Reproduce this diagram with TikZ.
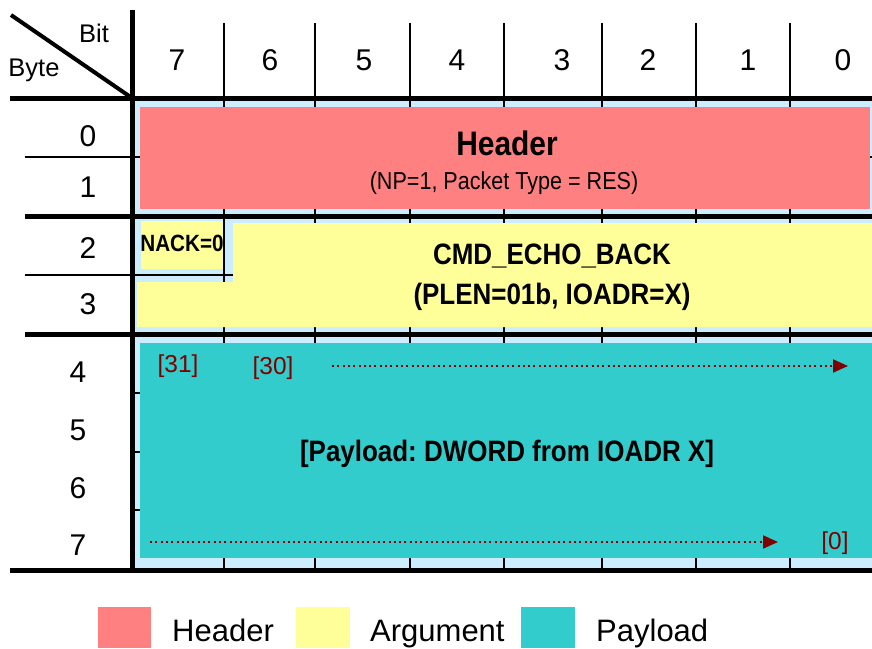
\documentclass[tikz,border=0pt]{standalone}
\usepackage{fontspec}
\setmainfont{Liberation Sans}
\newfontfamily\condf[FakeStretch=0.88]{Liberation Sans}
\usetikzlibrary{arrows.meta}
\definecolor{hdrc}{RGB}{255,128,128}
\definecolor{argc}{RGB}{255,255,153}
\definecolor{payc}{RGB}{51,204,204}
\definecolor{lblue}{RGB}{204,236,255}
\definecolor{idxc}{RGB}{128,0,0}
\begin{document}
\frenchspacing
\begin{tikzpicture}[x=1pt,y=-1pt,
  thinl/.style={line width=1.5pt,black},
  thickl/.style={line width=5pt,black},
  axlab/.style={inner sep=0pt,font=\fontsize{30}{36}\selectfont},
  corner/.style={inner sep=0pt,font=\fontsize{25.5}{30}\selectfont},
  boldlab/.style={inner sep=0pt,font=\condf\fontsize{29.5}{35}\selectfont\bfseries},
  idx/.style={inner sep=0pt,text=idxc,font=\fontsize{24.5}{29}\selectfont},
  legtext/.style={inner sep=0pt,anchor=base west,font=\fontsize{31}{37}\selectfont},
  dotarrow/.style={idxc,line width=2pt,dash pattern=on 2pt off 3.3pt,-{Triangle[length=15pt,width=13pt]}}
]
\useasboundingbox (0,0) rectangle (872,648);
% background of the cell area
\fill[lblue] (131,98) rectangle (872,570);
% thin grid lines
\foreach \x in {224,315,410,504,602,696,790} \draw[thinl] (\x,23) -- (\x,570);
\draw[thinl] (25,157) -- (872,157);
\draw[thinl] (25,275) -- (872,275);
\foreach \y in {393,452,510} \draw[thinl] (131,\y) -- (872,\y);
% field boxes
\fill[hdrc] (140,107) rectangle (870,209);
\fill[argc] (141,221) rectangle (223,269);
\fill[argc] (233,223) -- (872,223) -- (872,327) -- (137,327) -- (137,282) -- (233,282) -- cycle;
\fill[payc] (140,343) rectangle (872,558);
% thick lines
\draw[thickl] (10,98) -- (872,98);
\draw[thickl] (25,216) -- (872,216);
\draw[thickl] (25,334) -- (872,334);
\draw[thickl] (10,570) -- (872,570);
\draw[thickl] (132,10) -- (132,572);
\draw[line width=4pt] (11,15) -- (132,98);
% corner labels
\node[corner] (bit) at (94,33) {Bit};
\node[corner] (byte) at (34,70) {Byte};
% column labels
\node[axlab] (c7) at (177,60) {7};
\node[axlab] (c6) at (270,60) {6};
\node[axlab] (c5) at (364,60) {5};
\node[axlab] (c4) at (457,60) {4};
\node[axlab] (c3) at (562,60) {3};
\node[axlab] (c2) at (648,60) {2};
\node[axlab] (c1) at (748,60) {1};
\node[axlab] (c0) at (843,60) {0};
% row labels
\node[axlab] (r0) at (88,136) {0};
\node[axlab] (r1) at (88,187) {1};
\node[axlab] (r2) at (88,248) {2};
\node[axlab] (r3) at (88,304) {3};
\node[axlab] (r4) at (78,372) {4};
\node[axlab] (r5) at (78,430) {5};
\node[axlab] (r6) at (78,488) {6};
\node[axlab] (r7) at (78,545) {7};
% field texts
\node[inner sep=0pt,font=\condf\fontsize{34}{40}\selectfont\bfseries] (hdr) at (507,143) {Header};
\node[inner sep=0pt,font=\condf\fontsize{24.5}{29}\selectfont] (hdrsub) at (504,183) {(NP=1, Packet Type = RES)};
\node[inner sep=0pt,font=\condf\fontsize{23.5}{28}\selectfont\bfseries] (nack) at (182,243) {NACK=0};
\node[boldlab] (cmd) at (552,256) {CMD\_ECHO\_BACK};
\node[boldlab] (plen) at (552,297) {(PLEN=01b, IOADR=X)};
\node[boldlab] (pay) at (507,454) {[Payload: DWORD from IOADR X]};
% payload bit indices
\node[idx] (i31) at (178,366) {[31]};
\node[idx] (i30) at (273,368) {[30]};
\node[idx] (i0) at (835,543) {[0]};
\coordinate (a1s) at (332,366);
\coordinate (a1e) at (848,366);
\coordinate (a2s) at (150,542);
\coordinate (a2e) at (778,542);
\draw[dotarrow] (a1s) -- (a1e);
\draw[dotarrow] (a2s) -- (a2e);
% legend
\fill[hdrc] (98,607) rectangle (151,648);
\fill[argc] (296,607) rectangle (350,648);
\fill[payc] (521,607) rectangle (575,648);
\node[legtext] (lh) at (172,641) {Header};
\node[legtext] (la) at (370,641) {Argument};
\node[legtext] (lp) at (596,641) {Payload};
\end{tikzpicture}
\end{document}
